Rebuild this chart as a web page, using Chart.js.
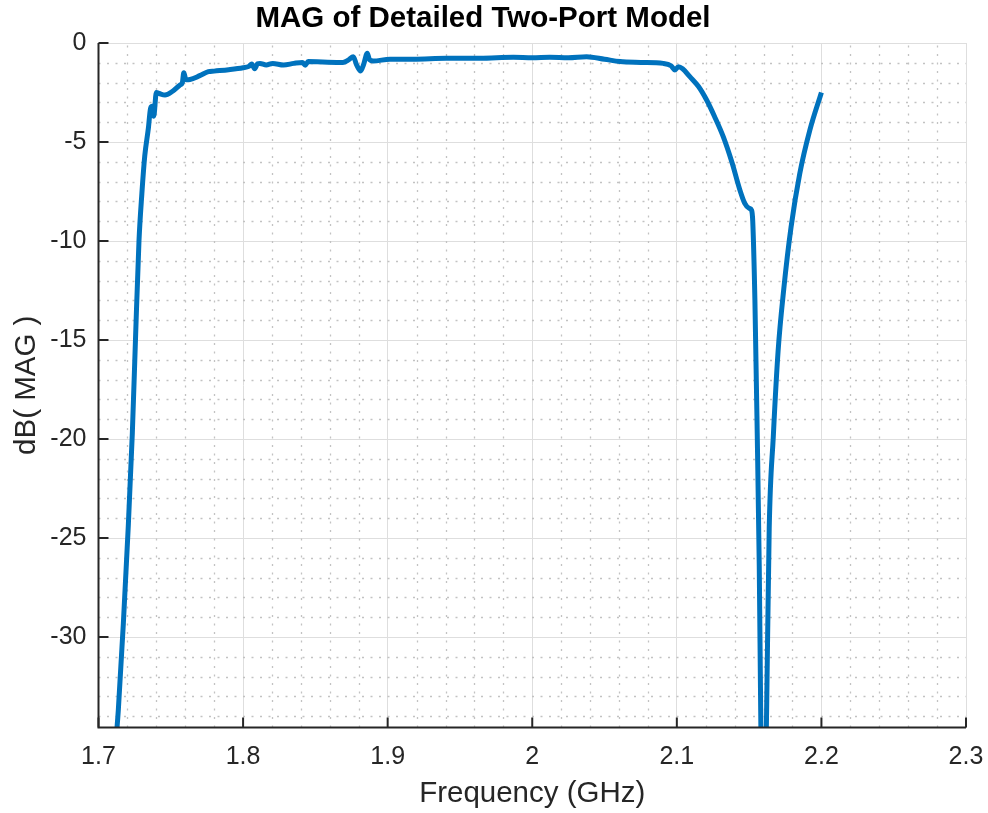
<!DOCTYPE html>
<html>
<head>
<meta charset="utf-8">
<title>MAG of Detailed Two-Port Model</title>
<script src="https://cdn.jsdelivr.net/npm/chart.js@4"></script>
<style>
    html, body { margin: 0; padding: 0; background: #ffffff; }
    #wrap { width: 988px; height: 813px; }
</style>
</head>
<body>
<div id="wrap"><canvas id="magChart" width="988" height="813"></canvas></div>
<script>
// Frequency sweep (GHz) and maximum available gain (dB)
const freqGHz = [
    1.7100, 1.7137, 1.7172, 1.7206, 1.7234, 1.7257, 1.7280, 1.7300, 1.7320, 1.7345,
    1.7360, 1.7372, 1.7382, 1.7400, 1.7420, 1.7460, 1.7510, 1.7564, 1.7580, 1.7590,
    1.7605, 1.7633, 1.7700, 1.7760, 1.7800, 1.7900, 1.8000, 1.8040, 1.8060, 1.8080,
    1.8100, 1.8117, 1.8160, 1.8205, 1.8280, 1.8350, 1.8410, 1.8430, 1.8450, 1.8550,
    1.8690, 1.8730, 1.8762, 1.8785, 1.8813, 1.8835, 1.8859, 1.8875, 1.8900, 1.9016,
    1.9177, 1.9408, 1.9638, 1.9869, 2.0000, 2.0122, 2.0250, 2.0376, 2.0500, 2.0607,
    2.0750, 2.0906, 2.0960, 2.0987, 2.1010, 2.1040, 2.1090, 2.1150, 2.1206, 2.1260,
    2.1321, 2.1380, 2.1436, 2.1470, 2.1500, 2.1517, 2.1525, 2.1540, 2.1556, 2.1570,
    2.1580, 2.1598, 2.1621, 2.1639, 2.1667, 2.1700, 2.1740, 2.1790, 2.1850, 2.1920,
    2.2000
];
const magDB = [
    -37.0, -33.7, -29.3, -24.4, -19.7, -14.7, -10.0, -7.6, -5.7, -4.3,
    -3.3, -3.2, -3.7, -2.5, -2.55, -2.63, -2.45, -2.12, -2.0, -1.5,
    -1.85, -1.84, -1.65, -1.45, -1.42, -1.35, -1.25, -1.18, -1.06, -1.3,
    -1.05, -1.03, -1.11, -1.03, -1.11, -1.03, -0.98, -1.12, -0.94, -0.96,
    -0.98, -0.85, -0.69, -1.1, -1.41, -1.05, -0.52, -0.85, -0.91, -0.82,
    -0.82, -0.77, -0.77, -0.72, -0.75, -0.72, -0.74, -0.69, -0.82, -0.94,
    -0.98, -1.03, -1.15, -1.36, -1.2, -1.3, -1.7, -2.2, -2.88, -3.7,
    -4.73, -6.0, -7.42, -8.1, -8.35, -8.45, -9.0, -13.0, -19.7, -26.4,
    -33.7, -44.0, -33.7, -24.5, -19.9, -15.6, -12.4, -9.3, -6.6, -4.4,
    -2.5
];

const xTicks = [1.7, 1.8, 1.9, 2.0, 2.1, 2.2, 2.3];
const xTickLabels = ['1.7', '1.8', '1.9', '2', '2.1', '2.2', '2.3'];
const yTicks = [-30, -25, -20, -15, -10, -5, 0];
const yTickLabels = ['-30', '-25', '-20', '-15', '-10', '-5', '0'];

const X_MIN = 1.7, X_MAX = 2.3;
const Y_MIN = -34.57, Y_MAX = 0;
const AXIS_COLOR = '#262626';
const FONT = 'Liberation Sans, Arial, sans-serif';

// dotted minor grid under the trace, inward tick marks on top
const matlabAxes = {
    id: 'matlabAxes',
    beforeDatasetsDraw(chart) {
        const { ctx, chartArea: a, scales: { x, y } } = chart;
        ctx.save();
        ctx.strokeStyle = '#c2c2c2';
        ctx.lineWidth = 1.3;
        ctx.setLineDash([2, 6.5]);
        for (let i = 1; i < 30; i++) {
            if (i % 5 === 0) continue;
            const px = Math.round(x.getPixelForValue(X_MIN + i * 0.02)) + 0.5;
            ctx.beginPath();
            ctx.moveTo(px, a.bottom);
            ctx.lineTo(px, a.top);
            ctx.stroke();
        }
        for (let v = -34; v < 0; v++) {
            if (v % 5 === 0) continue;
            const py = Math.round(y.getPixelForValue(v)) + 0.5;
            ctx.beginPath();
            ctx.moveTo(a.left, py);
            ctx.lineTo(a.right, py);
            ctx.stroke();
        }
        ctx.restore();
    },
    afterDatasetsDraw(chart) {
        const { ctx, chartArea: a, scales: { x, y } } = chart;
        ctx.save();
        ctx.strokeStyle = AXIS_COLOR;
        ctx.lineWidth = 2;
        xTicks.forEach(v => {
            const px = x.getPixelForValue(v);
            ctx.beginPath();
            ctx.moveTo(px, a.bottom);
            ctx.lineTo(px, a.bottom - 10);
            ctx.stroke();
        });
        yTicks.forEach(v => {
            const py = y.getPixelForValue(v);
            ctx.beginPath();
            ctx.moveTo(a.left, py);
            ctx.lineTo(a.left + 10, py);
            ctx.stroke();
        });
        ctx.beginPath();
        ctx.moveTo(a.left, a.top);
        ctx.lineTo(a.left, a.bottom);
        ctx.lineTo(a.right, a.bottom);
        ctx.stroke();
        ctx.restore();
    }
};

const points = freqGHz.map((f, i) => ({ x: f, y: magDB[i] }));

new Chart(document.getElementById('magChart'), {
    type: 'line',
    data: {
        datasets: [{
            data: points,
            borderColor: '#0072BD',
            borderWidth: 5,
            pointRadius: 0,
            cubicInterpolationMode: 'monotone',
            clip: 0,
            fill: false
        }]
    },
    options: {
        responsive: false,
        animation: false,
        layout: { padding: { top: 0, right: 22, left: 0, bottom: 0 } },
        plugins: {
            legend: { display: false },
            tooltip: { enabled: false },
            title: {
                display: true,
                text: 'MAG of Detailed Two-Port Model',
                color: '#000000',
                font: { family: FONT, size: 29.5, weight: 'bold', lineHeight: 1.2 },
                padding: { top: 1.5, bottom: 6.1 }
            }
        },
        scales: {
            x: {
                type: 'linear',
                min: X_MIN,
                max: X_MAX,
                afterBuildTicks: s => { s.ticks = xTicks.map(v => ({ value: v })); },
                afterFit: s => { s.height = 85.5; s.paddingLeft = 0; s.paddingRight = 0; },
                ticks: {
                    color: AXIS_COLOR,
                    padding: 15,
                    font: { family: FONT, size: 25, lineHeight: 1.2 },
                    callback: (v, i) => xTickLabels[i]
                },
                grid: { color: '#dedede', lineWidth: 1, drawTicks: false },
                border: { display: false },
                title: {
                    display: true,
                    text: 'Frequency (GHz)',
                    color: AXIS_COLOR,
                    font: { family: FONT, size: 29.5, lineHeight: 1.2 },
                    padding: { top: 0, bottom: 1 }
                }
            },
            y: {
                type: 'linear',
                min: Y_MIN,
                max: Y_MAX,
                afterBuildTicks: s => { s.ticks = yTicks.map(v => ({ value: v })); },
                afterFit: s => { s.width = 98.5; s.paddingTop = 0; s.paddingBottom = 0; },
                ticks: {
                    color: AXIS_COLOR,
                    padding: 12,
                    font: { family: FONT, size: 25, lineHeight: 1.2 },
                    callback: (v, i) => yTickLabels[i]
                },
                grid: { color: '#dedede', lineWidth: 1, drawTicks: false },
                border: { display: false },
                title: {
                    display: true,
                    text: 'dB( MAG )',
                    color: AXIS_COLOR,
                    font: { family: FONT, size: 29.5, lineHeight: 1.2 },
                    padding: { top: 9, bottom: 0 }
                }
            }
        }
    },
    plugins: [matlabAxes]
});
</script>
</body>
</html>
